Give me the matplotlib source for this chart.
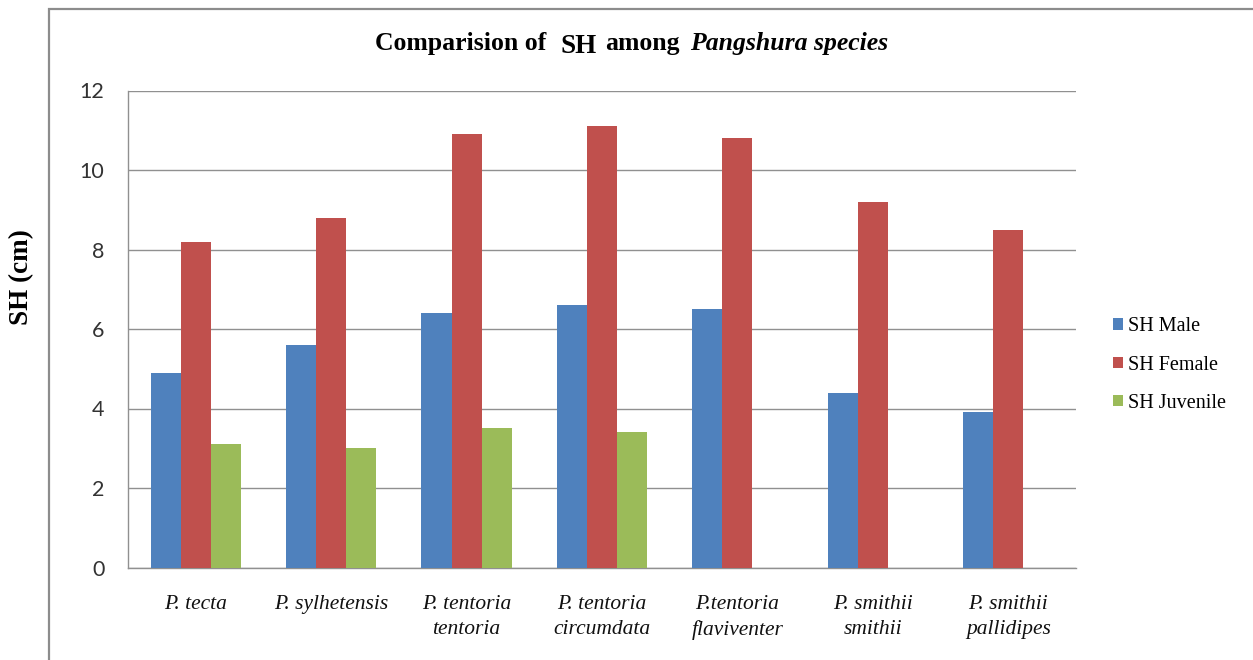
import numpy as np
import matplotlib
matplotlib.use("Agg")
import matplotlib.pyplot as plt
from matplotlib.patches import Rectangle

categories = ["P. tecta", "P. sylhetensis", "P. tentoria\ntentoria",
              "P. tentoria\ncircumdata", "P.tentoria\nflaviventer",
              "P. smithii\nsmithii", "P. smithii\npallidipes"]
sh_male = [4.9, 5.6, 6.4, 6.6, 6.5, 4.4, 3.9]
sh_female = [8.2, 8.8, 10.9, 11.1, 10.8, 9.2, 8.5]
sh_juvenile = [3.1, 3.0, 3.5, 3.4, np.nan, np.nan, np.nan]
series_labels = ["SH Male", "SH Female", "SH Juvenile"]
yticks = [0, 2, 4, 6, 8, 10, 12]

colors = ["#4F81BD", "#C0504D", "#9BBB59"]

W, H = 1253, 660
fig = plt.figure(figsize=(W / 100, H / 100), dpi=100)
fig.patch.set_facecolor("white")

# outer chart frame (cut off at right and bottom)
frame = Rectangle((49 / W, -0.1), 1.2, 1 - 9 / H + 0.1, transform=fig.transFigure,
                  fill=False, edgecolor="#8c8c8c", linewidth=1.6, clip_on=False)
fig.patches.append(frame)

ax = fig.add_axes([128 / W, (H - 567.5) / H, (1076 - 128) / W, (567.5 - 90.5) / H])

x = np.arange(len(categories))
bw = 0.222
for i, (vals, lab) in enumerate(zip([sh_male, sh_female, sh_juvenile], series_labels)):
    ax.bar(x + (i - 1) * bw, vals, width=bw, color=colors[i], label=lab,
           zorder=3, linewidth=0)

ax.set_xlim(-0.5, len(categories) - 0.5)
ax.set_ylim(0, 12)
ax.set_yticks(yticks)
ax.set_yticklabels([str(t) for t in yticks], fontfamily="Lato", fontsize=15.5, color="#333333")
ax.set_xticks(x)
ax.set_xticklabels(categories, fontfamily="Liberation Serif", fontstyle="italic",
                   fontsize=15.5, color="#111111", linespacing=1.4)
ax.tick_params(axis="both", length=0)
ax.tick_params(axis="y", pad=17)
ax.tick_params(axis="x", pad=20)
ax.grid(axis="y", color="#909090", linewidth=1.0, zorder=0)
ax.set_axisbelow(True)
for s in ["top", "right"]:
    ax.spines[s].set_visible(False)
for s in ["left", "bottom"]:
    ax.spines[s].set_color("#909090")
    ax.spines[s].set_linewidth(1.0)

# y label
fig.text(22 / W, 1 - 277 / H, "SH (cm)", rotation=90, ha="center", va="center",
         fontfamily="Liberation Serif", fontweight="bold", fontsize=19.5, color="black")

# legend
leg = ax.legend(loc="center left", bbox_to_anchor=(1113 / W, 1 - 365 / H),
                bbox_transform=fig.transFigure, frameon=False,
                prop={"family": "Liberation Serif", "size": 14.5},
                handlelength=0.5, handleheight=0.5, handletextpad=0.25,
                labelspacing=0.95, borderpad=0, borderaxespad=0)

# title composed of pieces
fig.canvas.draw()
renderer = fig.canvas.get_renderer()
pieces = [
    ("Comparision of", dict(fontweight="bold", fontsize=18.5), 0),
    ("SH", dict(fontweight="bold", fontsize=19.5), -3),
    ("among", dict(fontweight="bold", fontsize=18.5), 0),
    ("Pangshura species", dict(fontweight="bold", fontstyle="italic", fontsize=18.5), 0),
]
gaps = [14, 8, 11]
texts = []
widths = []
for s, kw, dy in pieces:
    t = fig.text(0, 0, s, fontfamily="Liberation Serif", color="black",
                 ha="left", va="baseline", **kw)
    widths.append(t.get_window_extent(renderer).width)
    texts.append(t)
total = sum(widths) + sum(gaps)
xpos = 632 - total / 2
base_y = 50
for k, (t, (s, kw, dy)) in enumerate(zip(texts, pieces)):
    t.set_position((xpos / W, 1 - (base_y - dy) / H))
    xpos += widths[k] + (gaps[k] if k < len(gaps) else 0)

fig.savefig("out.png", dpi=100, facecolor="white")
